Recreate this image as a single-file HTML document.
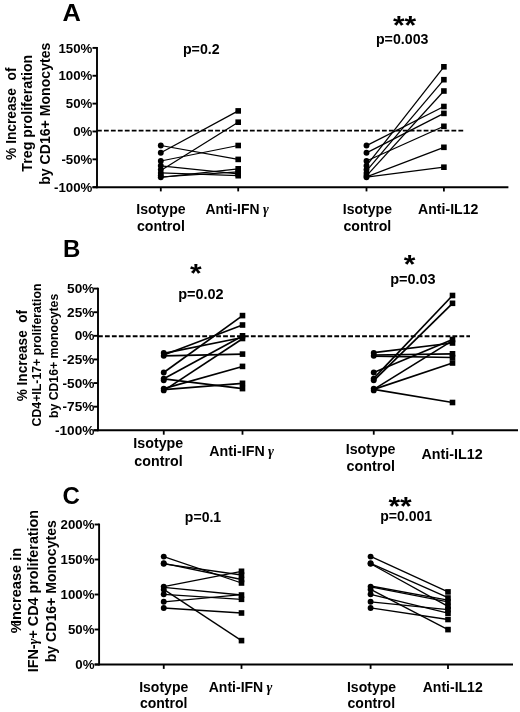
<!DOCTYPE html>
<html><head><meta charset="utf-8"><title>Figure</title>
<style>html,body{margin:0;padding:0;background:#fff;}svg{display:block;filter:grayscale(1);}
.fig text{font-family:"Liberation Sans",sans-serif;font-weight:bold;fill:#000;}
.fig .gm{font-family:"Liberation Serif",serif;font-weight:bold;font-style:italic;}</style></head><body>
<svg width="520" height="712" viewBox="0 0 520 712" class="fig" fill="#000">
<rect width="520" height="712" fill="#fff"/>
<text transform="translate(62.4,21) scale(1.06,1)" font-size="24" text-anchor="start" >A</text>
<line x1="97.0" y1="46.949999999999996" x2="97.0" y2="188.14999999999998" stroke="#000" stroke-width="1.9"/>
<line x1="92.5" y1="187.2" x2="508.4" y2="187.2" stroke="#000" stroke-width="1.9"/>
<line x1="92.5" y1="47.90" x2="97.0" y2="47.90" stroke="#000" stroke-width="1.9"/>
<text transform="translate(92.4,52.5) scale(1.02,1)" font-size="13" text-anchor="end" >150%</text>
<line x1="92.5" y1="75.76" x2="97.0" y2="75.76" stroke="#000" stroke-width="1.9"/>
<text transform="translate(92.4,80.36) scale(1.02,1)" font-size="13" text-anchor="end" >100%</text>
<line x1="92.5" y1="103.62" x2="97.0" y2="103.62" stroke="#000" stroke-width="1.9"/>
<text transform="translate(92.4,108.22) scale(1.02,1)" font-size="13" text-anchor="end" >50%</text>
<line x1="92.5" y1="131.48" x2="97.0" y2="131.48" stroke="#000" stroke-width="1.9"/>
<text transform="translate(92.4,136.08) scale(1.02,1)" font-size="13" text-anchor="end" >0%</text>
<line x1="92.5" y1="159.34" x2="97.0" y2="159.34" stroke="#000" stroke-width="1.9"/>
<text transform="translate(92.4,163.94) scale(1.02,1)" font-size="13" text-anchor="end" >-50%</text>
<line x1="92.5" y1="187.20" x2="97.0" y2="187.20" stroke="#000" stroke-width="1.9"/>
<text transform="translate(92.4,191.8) scale(1.02,1)" font-size="13" text-anchor="end" >-100%</text>
<line x1="160.8" y1="187.2" x2="160.8" y2="191.39999999999998" stroke="#000" stroke-width="1.8"/>
<line x1="238.2" y1="187.2" x2="238.2" y2="191.39999999999998" stroke="#000" stroke-width="1.8"/>
<line x1="366.5" y1="187.2" x2="366.5" y2="191.39999999999998" stroke="#000" stroke-width="1.8"/>
<line x1="443.9" y1="187.2" x2="443.9" y2="191.39999999999998" stroke="#000" stroke-width="1.8"/>
<line x1="97.0" y1="130.6" x2="463.6" y2="130.6" stroke="#000" stroke-width="1.9" stroke-dasharray="4.8 2.15"/>
<line x1="160.8" y1="145.5" x2="238.2" y2="159.4" stroke="#000" stroke-width="1.25"/>
<line x1="160.8" y1="152.8" x2="238.2" y2="110.9" stroke="#000" stroke-width="1.25"/>
<line x1="160.8" y1="161.0" x2="238.2" y2="145.5" stroke="#000" stroke-width="1.25"/>
<line x1="160.8" y1="165.8" x2="238.2" y2="173.9" stroke="#000" stroke-width="1.25"/>
<line x1="160.8" y1="170.5" x2="238.2" y2="122.2" stroke="#000" stroke-width="1.25"/>
<line x1="160.8" y1="172.9" x2="238.2" y2="175.7" stroke="#000" stroke-width="1.25"/>
<line x1="160.8" y1="177.3" x2="238.2" y2="168.8" stroke="#000" stroke-width="1.25"/>
<line x1="160.8" y1="177.0" x2="238.2" y2="171.8" stroke="#000" stroke-width="1.25"/>
<circle cx="160.8" cy="145.5" r="2.95" fill="#000"/>
<circle cx="160.8" cy="152.8" r="2.95" fill="#000"/>
<circle cx="160.8" cy="161.0" r="2.95" fill="#000"/>
<circle cx="160.8" cy="165.8" r="2.95" fill="#000"/>
<circle cx="160.8" cy="169.6" r="2.95" fill="#000"/>
<circle cx="160.8" cy="172.9" r="2.95" fill="#000"/>
<circle cx="160.8" cy="175.4" r="2.95" fill="#000"/>
<circle cx="160.8" cy="177.3" r="2.95" fill="#000"/>
<rect x="235.39999999999998" y="108.10000000000001" width="5.6" height="5.6" fill="#000"/>
<rect x="235.39999999999998" y="119.4" width="5.6" height="5.6" fill="#000"/>
<rect x="235.39999999999998" y="142.7" width="5.6" height="5.6" fill="#000"/>
<rect x="235.39999999999998" y="156.6" width="5.6" height="5.6" fill="#000"/>
<rect x="235.39999999999998" y="166.0" width="5.6" height="5.6" fill="#000"/>
<rect x="235.39999999999998" y="169.0" width="5.6" height="5.6" fill="#000"/>
<rect x="235.39999999999998" y="171.1" width="5.6" height="5.6" fill="#000"/>
<rect x="235.39999999999998" y="172.89999999999998" width="5.6" height="5.6" fill="#000"/>
<line x1="366.5" y1="145.6" x2="443.9" y2="106.5" stroke="#000" stroke-width="1.25"/>
<line x1="366.5" y1="152.9" x2="443.9" y2="113.4" stroke="#000" stroke-width="1.25"/>
<line x1="366.5" y1="161.0" x2="443.9" y2="126.3" stroke="#000" stroke-width="1.25"/>
<line x1="366.5" y1="165.6" x2="443.9" y2="66.8" stroke="#000" stroke-width="1.25"/>
<line x1="366.5" y1="170.8" x2="443.9" y2="79.7" stroke="#000" stroke-width="1.25"/>
<line x1="366.5" y1="175.8" x2="443.9" y2="91.0" stroke="#000" stroke-width="1.25"/>
<line x1="366.5" y1="176.9" x2="443.9" y2="147.3" stroke="#000" stroke-width="1.25"/>
<line x1="366.5" y1="177.2" x2="443.9" y2="167.2" stroke="#000" stroke-width="1.25"/>
<circle cx="366.5" cy="145.5" r="2.95" fill="#000"/>
<circle cx="366.5" cy="152.8" r="2.95" fill="#000"/>
<circle cx="366.5" cy="161.0" r="2.95" fill="#000"/>
<circle cx="366.5" cy="165.8" r="2.95" fill="#000"/>
<circle cx="366.5" cy="169.6" r="2.95" fill="#000"/>
<circle cx="366.5" cy="172.9" r="2.95" fill="#000"/>
<circle cx="366.5" cy="175.4" r="2.95" fill="#000"/>
<circle cx="366.5" cy="177.3" r="2.95" fill="#000"/>
<rect x="441.09999999999997" y="64.0" width="5.6" height="5.6" fill="#000"/>
<rect x="441.09999999999997" y="76.9" width="5.6" height="5.6" fill="#000"/>
<rect x="441.09999999999997" y="88.2" width="5.6" height="5.6" fill="#000"/>
<rect x="441.09999999999997" y="103.7" width="5.6" height="5.6" fill="#000"/>
<rect x="441.09999999999997" y="110.60000000000001" width="5.6" height="5.6" fill="#000"/>
<rect x="441.09999999999997" y="123.5" width="5.6" height="5.6" fill="#000"/>
<rect x="441.09999999999997" y="144.5" width="5.6" height="5.6" fill="#000"/>
<rect x="441.09999999999997" y="164.39999999999998" width="5.6" height="5.6" fill="#000"/>
<text transform="translate(16.2,113.7) rotate(-90) scale(0.917,1)" font-size="15" text-anchor="middle" >% Increase&#160; of</text>
<text transform="translate(32.2,113.2) rotate(-90) scale(0.975,1)" font-size="14.6" text-anchor="middle" >Treg proliferation</text>
<text transform="translate(49.9,113.7) rotate(-90) scale(1.0,1)" font-size="14.1" text-anchor="middle" >by CD16+ Monocytes</text>
<text x="201.3" y="53.8" font-size="14.2" text-anchor="middle" >p=0.2</text>
<text transform="translate(404.5,34.3) scale(1.15,1)" font-size="26" text-anchor="middle" >**</text>
<text x="402.2" y="43.9" font-size="14.2" text-anchor="middle" >p=0.003</text>
<text transform="translate(160.9,214.4) scale(0.9935,1)" font-size="14.2" text-anchor="middle" >Isotype</text>
<text transform="translate(160.9,230.9) scale(0.9982,1)" font-size="14.2" text-anchor="middle" >control</text>
<text transform="translate(205.4,214.4) scale(0.9792,1)" font-size="14.2" text-anchor="start" >Anti-IFN <tspan class="gm" dx="-0.2">γ</tspan></text>
<text transform="translate(367.4,214.4) scale(0.9887,1)" font-size="14.2" text-anchor="middle" >Isotype</text>
<text transform="translate(367.4,230.9) scale(0.9935,1)" font-size="14.2" text-anchor="middle" >control</text>
<text transform="translate(448.2,214.4) scale(0.9935,1)" font-size="14.2" text-anchor="middle" >Anti-IL12</text>
<text x="63" y="257" font-size="24" text-anchor="start" >B</text>
<line x1="98.0" y1="287.65000000000003" x2="98.0" y2="431.25" stroke="#000" stroke-width="1.9"/>
<line x1="93.5" y1="430.3" x2="518.0" y2="430.3" stroke="#000" stroke-width="1.9"/>
<line x1="93.5" y1="288.60" x2="98.0" y2="288.60" stroke="#000" stroke-width="1.9"/>
<text transform="translate(94.4,293.2) scale(1.05,1)" font-size="13" text-anchor="end" >50%</text>
<line x1="93.5" y1="312.22" x2="98.0" y2="312.22" stroke="#000" stroke-width="1.9"/>
<text transform="translate(94.4,316.82) scale(1.05,1)" font-size="13" text-anchor="end" >25%</text>
<line x1="93.5" y1="335.83" x2="98.0" y2="335.83" stroke="#000" stroke-width="1.9"/>
<text transform="translate(94.4,340.43) scale(1.05,1)" font-size="13" text-anchor="end" >0%</text>
<line x1="93.5" y1="359.45" x2="98.0" y2="359.45" stroke="#000" stroke-width="1.9"/>
<text transform="translate(94.4,364.05) scale(1.05,1)" font-size="13" text-anchor="end" >-25%</text>
<line x1="93.5" y1="383.07" x2="98.0" y2="383.07" stroke="#000" stroke-width="1.9"/>
<text transform="translate(94.4,387.67) scale(1.05,1)" font-size="13" text-anchor="end" >-50%</text>
<line x1="93.5" y1="406.68" x2="98.0" y2="406.68" stroke="#000" stroke-width="1.9"/>
<text transform="translate(94.4,411.28) scale(1.05,1)" font-size="13" text-anchor="end" >-75%</text>
<line x1="93.5" y1="430.30" x2="98.0" y2="430.30" stroke="#000" stroke-width="1.9"/>
<text transform="translate(94.4,434.9) scale(1.05,1)" font-size="13" text-anchor="end" >-100%</text>
<line x1="163.75" y1="430.3" x2="163.75" y2="434.7" stroke="#000" stroke-width="1.8"/>
<line x1="242.5" y1="430.3" x2="242.5" y2="434.7" stroke="#000" stroke-width="1.8"/>
<line x1="373.75" y1="430.3" x2="373.75" y2="434.7" stroke="#000" stroke-width="1.8"/>
<line x1="452.5" y1="430.3" x2="452.5" y2="434.7" stroke="#000" stroke-width="1.8"/>
<line x1="98.0" y1="336.2" x2="470" y2="336.2" stroke="#000" stroke-width="1.9" stroke-dasharray="4.8 2.15"/>
<line x1="163.75" y1="353.4" x2="242.5" y2="337.5" stroke="#000" stroke-width="1.7"/>
<line x1="163.75" y1="355.0" x2="242.5" y2="325.0" stroke="#000" stroke-width="1.7"/>
<line x1="163.75" y1="355.9" x2="242.5" y2="354.1" stroke="#000" stroke-width="1.7"/>
<line x1="163.75" y1="372.5" x2="242.5" y2="315.6" stroke="#000" stroke-width="1.7"/>
<line x1="163.75" y1="378.8" x2="242.5" y2="336.0" stroke="#000" stroke-width="1.7"/>
<line x1="163.75" y1="378.8" x2="242.5" y2="388.6" stroke="#000" stroke-width="1.7"/>
<line x1="163.75" y1="390.6" x2="242.5" y2="338.7" stroke="#000" stroke-width="1.7"/>
<line x1="163.75" y1="388.6" x2="242.5" y2="366.5" stroke="#000" stroke-width="1.7"/>
<line x1="163.75" y1="389.6" x2="242.5" y2="383.3" stroke="#000" stroke-width="1.7"/>
<circle cx="163.75" cy="352.9" r="2.95" fill="#000"/>
<circle cx="163.75" cy="355.7" r="2.95" fill="#000"/>
<circle cx="163.75" cy="372.5" r="2.95" fill="#000"/>
<circle cx="163.75" cy="378.6" r="2.95" fill="#000"/>
<circle cx="163.75" cy="380.2" r="2.95" fill="#000"/>
<circle cx="163.75" cy="388.6" r="2.95" fill="#000"/>
<circle cx="163.75" cy="390.4" r="2.95" fill="#000"/>
<rect x="239.7" y="312.8" width="5.6" height="5.6" fill="#000"/>
<rect x="239.7" y="322.2" width="5.6" height="5.6" fill="#000"/>
<rect x="239.7" y="333.0" width="5.6" height="5.6" fill="#000"/>
<rect x="239.7" y="335.7" width="5.6" height="5.6" fill="#000"/>
<rect x="239.7" y="351.3" width="5.6" height="5.6" fill="#000"/>
<rect x="239.7" y="363.59999999999997" width="5.6" height="5.6" fill="#000"/>
<rect x="239.7" y="380.5" width="5.6" height="5.6" fill="#000"/>
<rect x="239.7" y="385.8" width="5.6" height="5.6" fill="#000"/>
<line x1="373.75" y1="352.6" x2="452.5" y2="343.0" stroke="#000" stroke-width="1.7"/>
<line x1="373.75" y1="355.0" x2="452.5" y2="353.8" stroke="#000" stroke-width="1.7"/>
<line x1="373.75" y1="356.2" x2="452.5" y2="357.5" stroke="#000" stroke-width="1.7"/>
<line x1="373.75" y1="372.5" x2="452.5" y2="339.5" stroke="#000" stroke-width="1.7"/>
<line x1="373.75" y1="378.4" x2="452.5" y2="295.5" stroke="#000" stroke-width="1.7"/>
<line x1="373.75" y1="380.6" x2="452.5" y2="303.3" stroke="#000" stroke-width="1.7"/>
<line x1="373.75" y1="389.4" x2="452.5" y2="340.6" stroke="#000" stroke-width="1.7"/>
<line x1="373.75" y1="389.4" x2="452.5" y2="363.0" stroke="#000" stroke-width="1.7"/>
<line x1="373.75" y1="389.4" x2="452.5" y2="402.5" stroke="#000" stroke-width="1.7"/>
<circle cx="373.75" cy="352.9" r="2.95" fill="#000"/>
<circle cx="373.75" cy="355.7" r="2.95" fill="#000"/>
<circle cx="373.75" cy="372.5" r="2.95" fill="#000"/>
<circle cx="373.75" cy="378.6" r="2.95" fill="#000"/>
<circle cx="373.75" cy="380.2" r="2.95" fill="#000"/>
<circle cx="373.75" cy="388.6" r="2.95" fill="#000"/>
<circle cx="373.75" cy="390.4" r="2.95" fill="#000"/>
<rect x="449.7" y="292.7" width="5.6" height="5.6" fill="#000"/>
<rect x="449.7" y="300.5" width="5.6" height="5.6" fill="#000"/>
<rect x="449.7" y="336.7" width="5.6" height="5.6" fill="#000"/>
<rect x="449.7" y="340.2" width="5.6" height="5.6" fill="#000"/>
<rect x="449.7" y="351.0" width="5.6" height="5.6" fill="#000"/>
<rect x="449.7" y="354.7" width="5.6" height="5.6" fill="#000"/>
<rect x="449.7" y="360.2" width="5.6" height="5.6" fill="#000"/>
<rect x="449.7" y="399.7" width="5.6" height="5.6" fill="#000"/>
<text transform="translate(26.9,355.6) rotate(-90) scale(0.907,1)" font-size="15" text-anchor="middle" >% Increase&#160; of</text>
<text transform="translate(41.0,355) rotate(-90) scale(1.0,1)" font-size="12.3" text-anchor="middle" >CD4+IL-17+ proliferation</text>
<text transform="translate(57.5,355.9) rotate(-90) scale(0.95,1)" font-size="12.9" text-anchor="middle" >by CD16+ monocytes</text>
<text transform="translate(195.8,282.1) scale(1.13,1)" font-size="26.5" text-anchor="middle" >*</text>
<text x="200.9" y="298.8" font-size="14.5" text-anchor="middle" >p=0.02</text>
<text transform="translate(409.6,273.2) scale(1.13,1)" font-size="26.5" text-anchor="middle" >*</text>
<text x="412.9" y="284.2" font-size="14.5" text-anchor="middle" >p=0.03</text>
<text transform="translate(158.3,448) scale(1.003,1)" font-size="14.2" text-anchor="middle" >Isotype</text>
<text transform="translate(158.5,465.5) scale(1.003,1)" font-size="14.2" text-anchor="middle" >control</text>
<text transform="translate(209.3,455.5) scale(1.003,1)" font-size="14.2" text-anchor="start" >Anti-IFN <tspan class="gm" dx="-0.6">γ</tspan></text>
<text transform="translate(370.6,453.6) scale(1.003,1)" font-size="14.2" text-anchor="middle" >Isotype</text>
<text transform="translate(370.7,470.9) scale(1.0077,1)" font-size="14.2" text-anchor="middle" >control</text>
<text transform="translate(452.1,459.2) scale(1.0077,1)" font-size="14.2" text-anchor="middle" >Anti-IL12</text>
<text x="62.6" y="504" font-size="24" text-anchor="start" >C</text>
<line x1="99.1" y1="523.55" x2="99.1" y2="665.45" stroke="#000" stroke-width="1.9"/>
<line x1="94.6" y1="664.5" x2="513.0" y2="664.5" stroke="#000" stroke-width="1.9"/>
<line x1="94.6" y1="524.50" x2="99.1" y2="524.50" stroke="#000" stroke-width="1.9"/>
<text transform="translate(94.5,529.1) scale(1.02,1)" font-size="13" text-anchor="end" >200%</text>
<line x1="94.6" y1="559.50" x2="99.1" y2="559.50" stroke="#000" stroke-width="1.9"/>
<text transform="translate(94.5,564.1) scale(1.02,1)" font-size="13" text-anchor="end" >150%</text>
<line x1="94.6" y1="594.50" x2="99.1" y2="594.50" stroke="#000" stroke-width="1.9"/>
<text transform="translate(94.5,599.1) scale(1.02,1)" font-size="13" text-anchor="end" >100%</text>
<line x1="94.6" y1="629.50" x2="99.1" y2="629.50" stroke="#000" stroke-width="1.9"/>
<text transform="translate(94.5,634.1) scale(1.02,1)" font-size="13" text-anchor="end" >50%</text>
<line x1="94.6" y1="664.50" x2="99.1" y2="664.50" stroke="#000" stroke-width="1.9"/>
<text transform="translate(94.5,669.1) scale(1.02,1)" font-size="13" text-anchor="end" >0%</text>
<line x1="163.75" y1="664.5" x2="163.75" y2="668.9" stroke="#000" stroke-width="1.8"/>
<line x1="241.5" y1="664.5" x2="241.5" y2="668.9" stroke="#000" stroke-width="1.8"/>
<line x1="370.6" y1="664.5" x2="370.6" y2="668.9" stroke="#000" stroke-width="1.8"/>
<line x1="448.0" y1="664.5" x2="448.0" y2="668.9" stroke="#000" stroke-width="1.8"/>
<line x1="163.75" y1="556.6" x2="241.5" y2="583.0" stroke="#000" stroke-width="1.3"/>
<line x1="163.75" y1="563.3" x2="241.5" y2="579.5" stroke="#000" stroke-width="1.3"/>
<line x1="163.75" y1="563.8" x2="241.5" y2="575.0" stroke="#000" stroke-width="1.3"/>
<line x1="163.75" y1="586.6" x2="241.5" y2="571.3" stroke="#000" stroke-width="1.3"/>
<line x1="163.75" y1="587.3" x2="241.5" y2="595.0" stroke="#000" stroke-width="1.3"/>
<line x1="163.75" y1="589.4" x2="241.5" y2="640.6" stroke="#000" stroke-width="1.3"/>
<line x1="163.75" y1="594.3" x2="241.5" y2="599.3" stroke="#000" stroke-width="1.3"/>
<line x1="163.75" y1="601.8" x2="241.5" y2="594.6" stroke="#000" stroke-width="1.3"/>
<line x1="163.75" y1="608.0" x2="241.5" y2="613.0" stroke="#000" stroke-width="1.3"/>
<circle cx="163.75" cy="556.6" r="2.95" fill="#000"/>
<circle cx="163.75" cy="563.3" r="2.95" fill="#000"/>
<circle cx="163.75" cy="563.8" r="2.95" fill="#000"/>
<circle cx="163.75" cy="586.6" r="2.95" fill="#000"/>
<circle cx="163.75" cy="589.4" r="2.95" fill="#000"/>
<circle cx="163.75" cy="594.3" r="2.95" fill="#000"/>
<circle cx="163.75" cy="601.8" r="2.95" fill="#000"/>
<circle cx="163.75" cy="608.0" r="2.95" fill="#000"/>
<rect x="238.7" y="568.5" width="5.6" height="5.6" fill="#000"/>
<rect x="238.7" y="572.2" width="5.6" height="5.6" fill="#000"/>
<rect x="238.7" y="576.7" width="5.6" height="5.6" fill="#000"/>
<rect x="238.7" y="580.2" width="5.6" height="5.6" fill="#000"/>
<rect x="238.7" y="592.2" width="5.6" height="5.6" fill="#000"/>
<rect x="238.7" y="596.5" width="5.6" height="5.6" fill="#000"/>
<rect x="238.7" y="610.2" width="5.6" height="5.6" fill="#000"/>
<rect x="238.7" y="637.8000000000001" width="5.6" height="5.6" fill="#000"/>
<line x1="370.6" y1="556.3" x2="448.0" y2="591.9" stroke="#000" stroke-width="1.3"/>
<line x1="370.6" y1="563.4" x2="448.0" y2="597.7" stroke="#000" stroke-width="1.3"/>
<line x1="370.6" y1="563.7" x2="448.0" y2="606.4" stroke="#000" stroke-width="1.3"/>
<line x1="370.6" y1="586.0" x2="448.0" y2="600.2" stroke="#000" stroke-width="1.3"/>
<line x1="370.6" y1="586.8" x2="448.0" y2="601.9" stroke="#000" stroke-width="1.3"/>
<line x1="370.6" y1="589.4" x2="448.0" y2="629.6" stroke="#000" stroke-width="1.3"/>
<line x1="370.6" y1="594.4" x2="448.0" y2="613.2" stroke="#000" stroke-width="1.3"/>
<line x1="370.6" y1="601.9" x2="448.0" y2="609.6" stroke="#000" stroke-width="1.3"/>
<line x1="370.6" y1="607.9" x2="448.0" y2="619.5" stroke="#000" stroke-width="1.3"/>
<circle cx="370.6" cy="556.6" r="2.95" fill="#000"/>
<circle cx="370.6" cy="563.3" r="2.95" fill="#000"/>
<circle cx="370.6" cy="563.8" r="2.95" fill="#000"/>
<circle cx="370.6" cy="586.6" r="2.95" fill="#000"/>
<circle cx="370.6" cy="589.4" r="2.95" fill="#000"/>
<circle cx="370.6" cy="594.3" r="2.95" fill="#000"/>
<circle cx="370.6" cy="601.8" r="2.95" fill="#000"/>
<circle cx="370.6" cy="608.0" r="2.95" fill="#000"/>
<rect x="445.2" y="589.1" width="5.6" height="5.6" fill="#000"/>
<rect x="445.2" y="595.2" width="5.6" height="5.6" fill="#000"/>
<rect x="445.2" y="599.1" width="5.6" height="5.6" fill="#000"/>
<rect x="445.2" y="603.6" width="5.6" height="5.6" fill="#000"/>
<rect x="445.2" y="606.8000000000001" width="5.6" height="5.6" fill="#000"/>
<rect x="445.2" y="610.4000000000001" width="5.6" height="5.6" fill="#000"/>
<rect x="445.2" y="616.7" width="5.6" height="5.6" fill="#000"/>
<rect x="445.2" y="626.8000000000001" width="5.6" height="5.6" fill="#000"/>
<text transform="translate(21.4,590.5) rotate(-90) scale(0.955,1)" font-size="15.3" text-anchor="middle" >%<tspan dx="-4.0">I</tspan>ncrease in</text>
<text transform="translate(38.2,591.1) rotate(-90) scale(1.025,1)" font-size="14" text-anchor="middle" >IFN-<tspan class="gm" dx="0">γ</tspan>+ CD4 proliferation</text>
<text transform="translate(55.5,591.2) rotate(-90) scale(1.0,1)" font-size="14.1" text-anchor="middle" >by CD16+ Monocytes</text>
<text transform="translate(203,521.5) scale(0.99,1)" font-size="14.2" text-anchor="middle" >p=0.1</text>
<text transform="translate(400,514.7) scale(1.15,1)" font-size="26" text-anchor="middle" >**</text>
<text transform="translate(406.2,520.8) scale(0.99,1)" font-size="14.2" text-anchor="middle" >p=0.001</text>
<text transform="translate(163.7,692) scale(0.9887,1)" font-size="14.2" text-anchor="middle" >Isotype</text>
<text transform="translate(163.7,708.3) scale(0.9887,1)" font-size="14.2" text-anchor="middle" >control</text>
<text transform="translate(208.7,692) scale(0.9887,1)" font-size="14.2" text-anchor="start" >Anti-IFN <tspan class="gm" dx="-0.7">γ</tspan></text>
<text transform="translate(371.5,692) scale(0.9887,1)" font-size="14.2" text-anchor="middle" >Isotype</text>
<text transform="translate(371.3,708.3) scale(0.9887,1)" font-size="14.2" text-anchor="middle" >control</text>
<text transform="translate(452.7,692) scale(0.9887,1)" font-size="14.2" text-anchor="middle" >Anti-IL12</text>
</svg></body></html>
